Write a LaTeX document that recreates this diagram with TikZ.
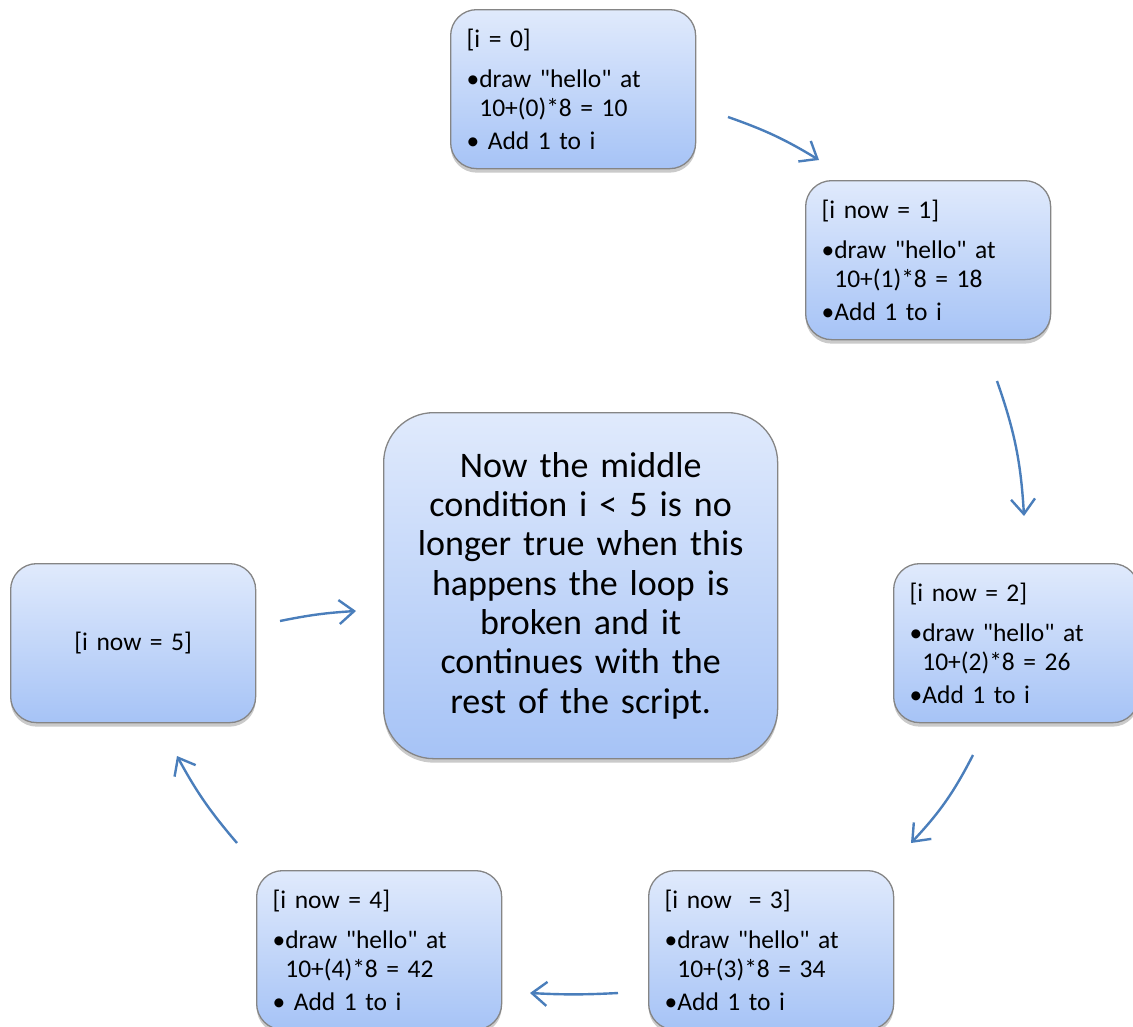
\documentclass[tikz,border=0pt]{standalone}
\usepackage{fontspec}
\setmainfont{Carlito}[Ligatures=TeXOff]
\usetikzlibrary{arrows.meta,shadows,shadings}
\definecolor{boxtop}{HTML}{E0EAFC}
\definecolor{boxbot}{HTML}{A6C3F6}
\definecolor{boxline}{HTML}{858585}
\definecolor{arrowblue}{HTML}{4A7EBB}
\newcommand{\bul}{•}
\newcommand{\hang}{\hphantom{•}}
\tikzset{
  loopbox/.style={draw=boxline, line width=1.3bp, rounded corners=26bp,
    top color=boxtop, bottom color=boxbot, anchor=north west,
    minimum height=159bp, text width=213bp, inner xsep=16bp, align=left,
    font=\fontsize{25.5bp}{28.5bp}\selectfont,
    drop shadow={shadow xshift=0bp, shadow yshift=-4bp, opacity=0.35, fill=black!60}},
  bigbox/.style={draw=boxline, line width=1.3bp, rounded corners=50bp,
    top color=boxtop, bottom color=boxbot, anchor=north west,
    minimum height=346bp, text width=362bp, inner xsep=16bp, align=center,
    font=\fontsize{36bp}{39.3bp}\selectfont,
    drop shadow={shadow xshift=0bp, shadow yshift=-4bp, opacity=0.35, fill=black!60}},
  flow/.style={draw=arrowblue, line width=2.4bp,
    -{Straight Barb[length=15bp,width=24bp]}},
}
\begin{document}
\begin{tikzpicture}[x=1bp,y=-1bp]
\useasboundingbox (0,0) rectangle (1133,1027);
\clip (0,0) rectangle (1133,1027);
\node[loopbox] (b0) at (450,9) {[i = 0]\\[12bp]\bul draw "hello" at\\\hang 10+(0)*8 = 10\\[5bp]\bul\ Add 1 to i};
\node[loopbox] (b1) at (805,180) {[i now = 1]\\[12bp]\bul draw "hello" at\\\hang 10+(1)*8 = 18\\[5bp]\bul Add 1 to i};
\node[loopbox] (b2) at (893,563) {[i now = 2]\\[12bp]\bul draw "hello" at\\\hang 10+(2)*8 = 26\\[5bp]\bul Add 1 to i};
\node[loopbox] (b3) at (648,870) {[i now \ = 3]\\[12bp]\bul draw "hello" at\\\hang 10+(3)*8 = 34\\[5bp]\bul Add 1 to i};
\node[loopbox] (b4) at (256,870) {[i now = 4]\\[12bp]\bul draw "hello" at\\\hang 10+(4)*8 = 42\\[5bp]\bul\ Add 1 to i};
\node[loopbox, align=center] (b5) at (10,563) {[i now = 5]};
\node[bigbox] (c) at (383,412) {Now the middle\\condition i < 5 is no\\longer true when this\\happens the loop is\\broken and it\\continues with the\\rest of the script.};
\coordinate (a0s) at (728,117); \coordinate (a0e) at (819,160);
\coordinate (a1s) at (997,381); \coordinate (a1e) at (1024,516);
\coordinate (a2s) at (973,755); \coordinate (a2e) at (911,843);
\coordinate (a3s) at (618,993); \coordinate (a3e) at (530,993);
\coordinate (a4s) at (237,843); \coordinate (a4e) at (177,756);
\coordinate (a5s) at (280,621); \coordinate (a5e) at (356,611);
\draw[flow] (a0s) to[bend left=6] (a0e);
\draw[flow] (a1s) to[bend left=8] (a1e);
\draw[flow] (a2s) to[bend left=8] (a2e);
\draw[flow] (a3s) to[bend left=3] (a3e);
\draw[flow] (a4s) to[bend left=6] (a4e);
\draw[flow] (a5s) to[bend left=4] (a5e);
\end{tikzpicture}
\end{document}
